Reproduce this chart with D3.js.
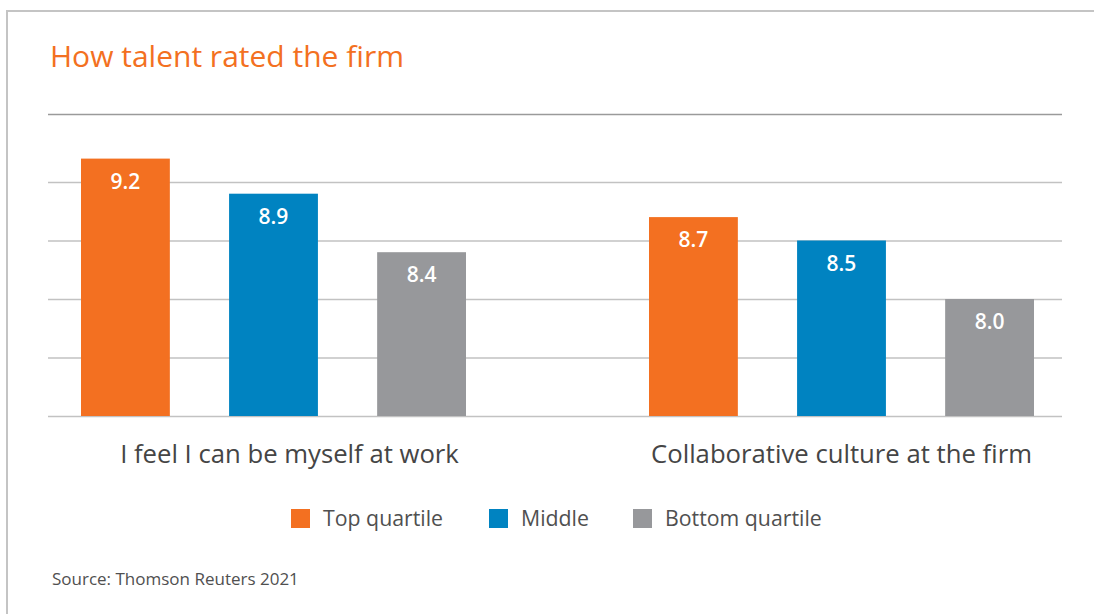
<!DOCTYPE html>
<html>
<head>
<meta charset="utf-8">
<script src="https://cdn.jsdelivr.net/npm/d3@7"></script>
<style>
  html, body { margin: 0; padding: 0; background: #fff; }
  svg { display: block; font-family: "Open Sans", "Noto Sans", sans-serif; }
</style>
</head>
<body>
<svg id="chart" width="1094" height="614"></svg>
<script>
// Survey categories and series
const categories = ["I feel I can be myself at work", "Collaborative culture at the firm"];
const seriesNames = ["Top quartile", "Middle", "Bottom quartile"];
const topQuartile = [9.2, 8.7];
const middle = [8.9, 8.5];
const bottomQuartile = [8.4, 8.0];
const gridTicks = [7.0, 7.5, 8.0, 8.5, 9.0];

const seriesValues = [topQuartile, middle, bottomQuartile];
const colors = ["#F37021", "#0083C1", "#97989B"];

const svg = d3.select("#chart");

// Frame
svg.append("path")
  .attr("d", "M7,614 V11 H1100")
  .attr("fill", "none")
  .attr("stroke", "#c4c4c4")
  .attr("stroke-width", 2);

// Title
svg.append("text")
  .attr("x", 50).attr("y", 67)
  .attr("fill", "#F37021")
  .attr("font-size", 30)
  .text("How talent rated the firm");

const left = 48, right = 1062;

// Scales
const y = d3.scaleLinear().domain([7, 9]).range([416, 182]);
const x0 = d3.scalePoint().domain(categories).range([273.5, 841.5]);
const groupWidth = 385;
const x1 = d3.scaleBand().domain(seriesNames).range([-groupWidth / 2, groupWidth / 2]).paddingInner(0.4).paddingOuter(0);

// Top rule
svg.append("line")
  .attr("x1", left).attr("x2", right)
  .attr("y1", 114.5).attr("y2", 114.5)
  .attr("stroke", "#9a9a9a").attr("stroke-width", 1.6);

// Gridlines
svg.append("g")
  .attr("transform", `translate(${left},0)`)
  .call(d3.axisLeft(y).tickValues(gridTicks).tickSize(-(right - left)).tickFormat(""))
  .call(g => g.select(".domain").remove())
  .call(g => g.selectAll(".tick line").attr("stroke", "#c2c2c2").attr("stroke-width", 1.6));

// Bars
const data = [];
categories.forEach((c, i) => {
  seriesNames.forEach((s, j) => {
    data.push({ category: c, series: s, value: seriesValues[j][i], color: colors[j] });
  });
});

const bars = svg.append("g").selectAll("g")
  .data(data)
  .join("g")
  .attr("transform", d => `translate(${x0(d.category) + x1(d.series)},0)`);

bars.append("rect")
  .attr("x", 0)
  .attr("y", d => y(d.value))
  .attr("width", x1.bandwidth())
  .attr("height", d => y(7) - y(d.value))
  .attr("fill", d => d.color);

bars.append("text")
  .attr("x", x1.bandwidth() / 2)
  .attr("y", d => y(d.value) + 30)
  .attr("text-anchor", "middle")
  .attr("fill", "#fff")
  .attr("font-size", 21)
  .attr("font-weight", 600)
  .text(d => d.value.toFixed(1));

// Category labels
svg.append("g").selectAll("text")
  .data(categories)
  .join("text")
  .attr("x", d => x0(d) + (d === categories[0] ? 16 : 0))
  .attr("y", 463)
  .attr("text-anchor", "middle")
  .attr("fill", "#454545")
  .attr("font-size", 25.7)
  .text(d => d);

// Legend
const legendX = [291, 489, 633];
const legend = svg.append("g").selectAll("g")
  .data(seriesNames)
  .join("g")
  .attr("transform", (d, i) => `translate(${legendX[i]},509)`);
legend.append("rect")
  .attr("width", 19).attr("height", 19)
  .attr("fill", (d, i) => colors[i]);
legend.append("text")
  .attr("x", 32).attr("y", 17)
  .attr("fill", "#505050")
  .attr("font-size", 21.3)
  .text(d => d);

// Source
svg.append("text")
  .attr("x", 52).attr("y", 585)
  .attr("fill", "#505050")
  .attr("font-size", 17)
  .text("Source: Thomson Reuters 2021");
</script>
</body>
</html>
